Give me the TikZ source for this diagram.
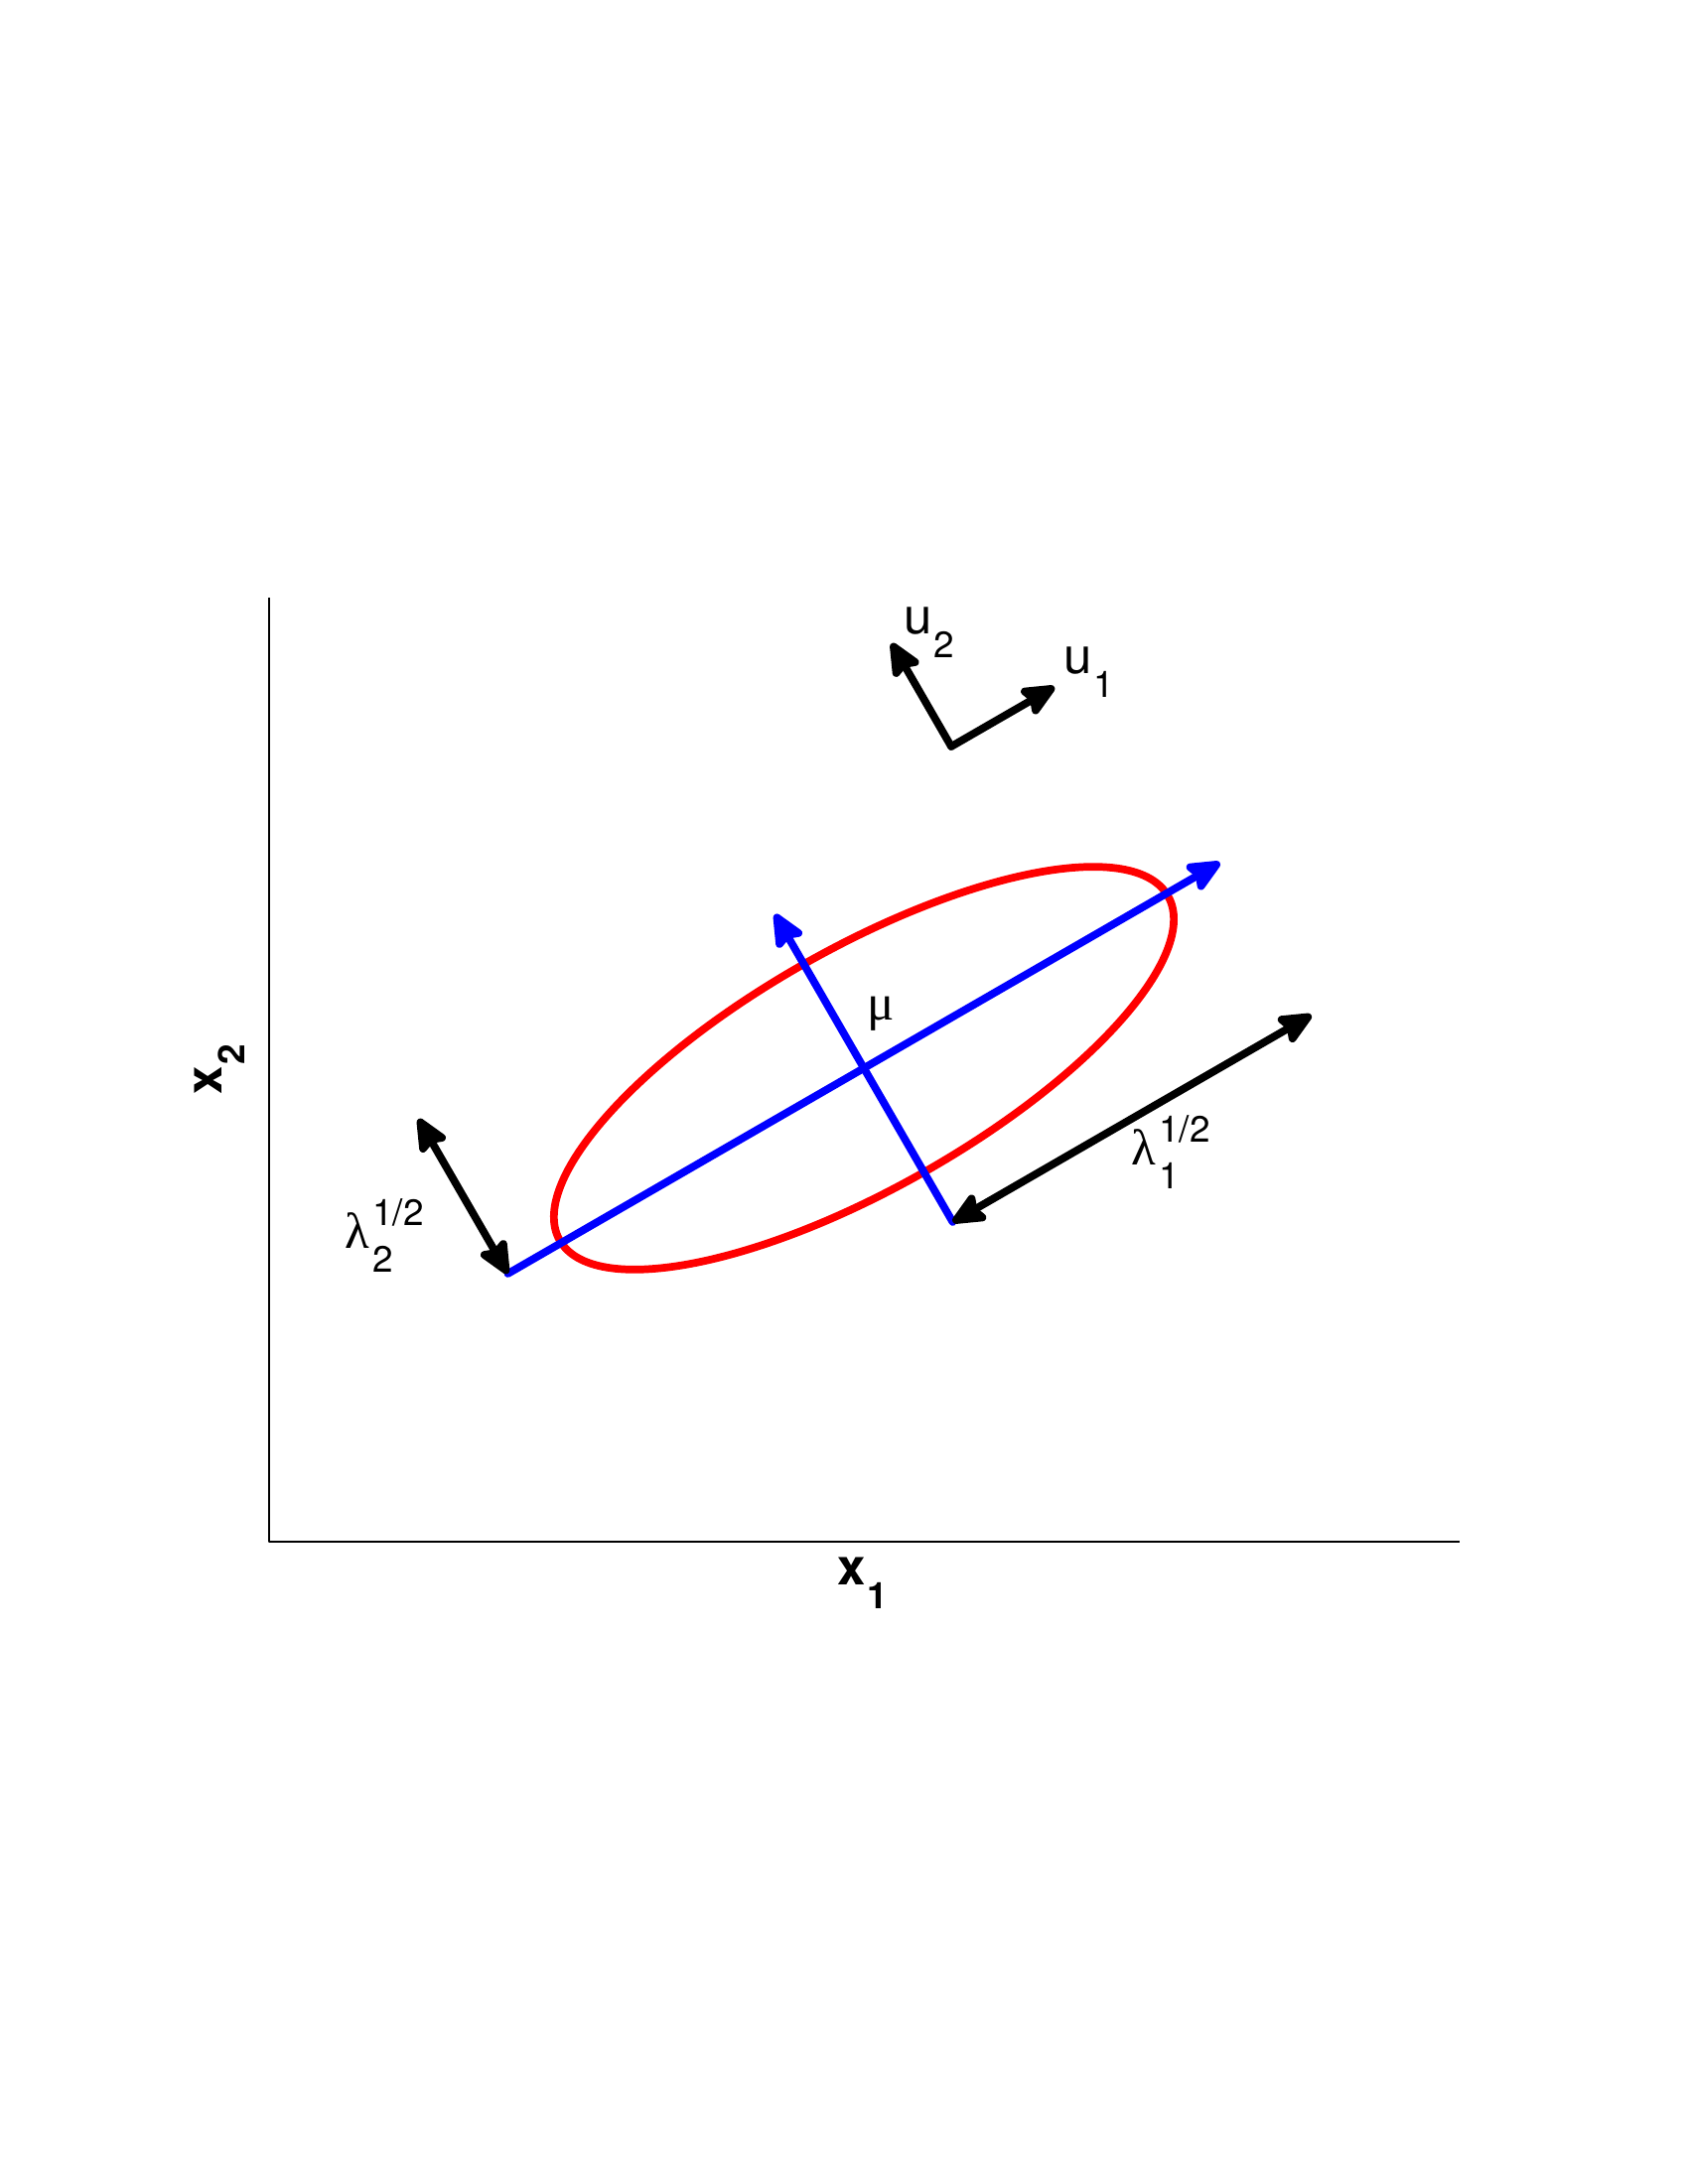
\documentclass[tikz,border=0pt]{standalone}
\usepackage{fontspec}
\setmainfont{TeX Gyre Heros}
\newfontfamily\greekfont{Liberation Serif}
\usetikzlibrary{arrows.meta,calc}
\newcommand{\mainsz}{\fontsize{14.5}{17}\selectfont}
\newcommand{\scrsz}{\fontsize{10.5}{12}\selectfont}
\newcommand{\lsub}[2]{#1\kern0.5pt\raisebox{-6.8pt}{\scrsz #2}}
\newcommand{\lsupsub}[3]{#1\kern0.8pt\rlap{\raisebox{6.8pt}{\scrsz #2}}\raisebox{-6.8pt}{\scrsz #3}}
\begin{document}
\begin{tikzpicture}[line join=round, line cap=round,
		axis/.style={line width=0.6pt, line cap=butt},
		vec/.style={line width=2.2pt, -{Stealth[length=4mm, width=3.5mm, inset=0.6mm, round]}},
		dvec/.style={line width=2.2pt, {Stealth[length=4mm, width=3.5mm, inset=0.6mm, round]}-{Stealth[length=4mm, width=3.5mm, inset=0.6mm, round]}},
		lbl/.style={inner sep=0pt, anchor=base west, font=\mainsz}]
	\useasboundingbox (0,0) rectangle (17,22);
	% axes
	\coordinate (O) at (2.71,6.47);
	\coordinate (ytop) at (2.71,15.98);
	\coordinate (xend) at (14.70,6.47);
	\draw[axis] (ytop) -- (O) -- (xend);
	% mean and principal axes
	\coordinate (mu) at (8.70,11.24);
	\coordinate (a1) at ($(mu)+(210:4.14)$);
	\coordinate (a2) at ($(mu)+(30:4.14)$);
	\coordinate (b1) at ($(mu)+(-60:1.79)$);
	\coordinate (b2) at ($(mu)+(120:1.79)$);
	\coordinate (l1) at ($(b1)+(30:4.17)$);
	\coordinate (l2) at ($(a1)+(120:1.8)$);
	\draw[red, line width=2.2pt, rotate around={29.5:(mu)}] (mu) ellipse [x radius=3.52, y radius=1.21];
	\draw[vec, blue] (a1) -- (a2);
	\draw[vec, blue] (b1) -- (b2);
	\draw[dvec] (b1) -- (l1);
	\draw[dvec] (a1) -- (l2);
	% eigenvectors
	\coordinate (U) at (9.58,14.48);
	\coordinate (U1) at ($(U)+(30:1.2)$);
	\coordinate (U2) at ($(U)+(120:1.2)$);
	\draw[vec] (U) -- (U1);
	\draw[vec] (U) -- (U2);
	% labels
	\node[lbl] (lab-u2) at (9.10,15.617) {\lsub{u}{2}};
	\node[lbl] (lab-u1) at (10.71,15.21) {\lsub{u}{1}};
	\node[lbl] (lab-mu) at (8.73,11.72) {\greekfont μ};
	\node[lbl] (lab-l1) at (11.39,10.26) {\lsupsub{{\greekfont λ}}{1/2}{1}};
	\node[lbl] (lab-l2) at (3.47,9.42) {\lsupsub{{\greekfont λ}}{1/2}{2}};
	\node[lbl, font=\mainsz\bfseries] (lab-x1) at (8.43,6.033) {\lsub{x}{1}};
	\node[lbl, font=\mainsz\bfseries, rotate=90] (lab-x2) at (2.23,10.97) {\lsub{x}{2}};
\end{tikzpicture}
\end{document}
